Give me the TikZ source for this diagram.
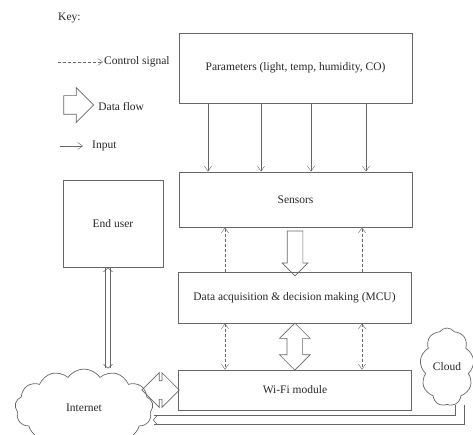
\documentclass[tikz,border=0pt]{standalone}
\usepackage{fontspec}
\setmainfont{Liberation Serif}
\usetikzlibrary{arrows.meta, positioning, calc, shapes.symbols, shapes.arrows}
\tikzset{
  block/.style={
    minimum width=233pt,
    align=center,
    draw=black!60,
    line width=0.9pt
  },
  keytext/.style={
    inner sep=1pt
  },
  cloudy/.style={
    cloud,
    cloud ignores aspect,
    draw=black!60,
    line width=0.7pt
  },
  flow/.style={
    single arrow,
    draw=black!60,
    line width=0.7pt
  },
  dflow/.style={
    double arrow,
    draw=black!60,
    line width=0.7pt
  },
  ctrl/.style={draw=black!60, densely dashed, thin},
  input/.style={draw=black!60, thin, ->},
  dline/.style={draw=black!60, line width=0.8pt, double, double distance=3.5pt,
    >={Straight Barb[length=4pt, width=9pt, line width=0.6pt]}}
}
\begin{document}
\begin{tikzpicture}[x=1pt, y=-1pt, node distance=0.5cm,
  font=\fontsize{11.5}{13}\selectfont, text=black!85,
  >={Straight Barb[length=5pt, width=7pt]}]
  \useasboundingbox (0,0) rectangle (473,435);
  \node (key) [keytext, anchor=west] at (57,18) {Key:};
  \coordinate (ctlkey) at (58,62);
  \node (ctltext) [keytext, anchor=west] at (103,62) {Control signal};
  \node (flowkey) [flow, minimum height=30pt, inner sep=9pt,
    single arrow head extend=8pt] at (74,105) {};
  \node (flowtext) [keytext, right=3pt of flowkey, yshift=-2pt] {Data flow};
  \coordinate (inkey) at (60,146);
  \coordinate (inend) at (83,146);
  \node (intext) [keytext, right=8pt of inend] {Input};
  \node (params) [block, minimum height=70pt] at (295.5,68)
    {Parameters (light, temp, humidity, CO)};
  \node (sensors) [block, minimum height=55pt] at (295.5,199.5) {Sensors};
  \node (daq) [block, minimum height=51pt] at (294.5,297.5)
    {Data acquisition \& decision making (MCU)};
  \node (wifi) [block, minimum height=40pt] at (295,390) {Wi-Fi module};
  \node (user) [block, minimum width=100pt, minimum height=87pt]
    at (113,223.5) {End user};
  \node (internet) [cloudy, cloud puffs=13, cloud puff arc=110,
    minimum width=138pt, minimum height=78pt] at (84,408) {Internet};
  \node (cloud) [cloudy, cloud puffs=9, cloud puff arc=110,
    minimum width=54pt, minimum height=78pt] at (447,367) {Cloud};
  \node (sflow) [flow, rotate=-90, minimum height=45pt, inner sep=7.5pt,
    single arrow head extend=5pt] at ($(sensors.south)!0.5!(daq.north)$) {};
  \node (mflow) [dflow, rotate=90, minimum height=47pt, inner sep=7.5pt,
    double arrow head extend=7.5pt] at ($(daq.south)!0.5!(wifi.north)$) {};
  \node (iflow) [dflow, minimum height=35pt, inner sep=9pt,
    double arrow head extend=8pt] at ($(wifi.west)+(-17.5,0)$) {};
  \foreach \x in {208,261,311,366}
    \draw [input] (params.south -| \x,0) -- (sensors.north -| \x,0);
  \foreach \x in {225,362} {
    \draw [ctrl, ->] (daq.north -| \x,0) -- (sensors.south -| \x,0);
    \draw [ctrl, <->] (daq.south -| \x,0) -- (wifi.north -| \x,0);
  }
  \draw [ctrl, ->] (ctlkey) -- (ctltext);
  \draw [input] (inkey) -- (inend);
  \draw [dline, <->] ([xshift=-5pt]user.south) -- ([xshift=-5pt]user.south |- internet.north);
  \draw [dline, ->, double distance=8pt] ([xshift=13pt]cloud.south)
    |- ([yshift=-12pt]internet.east);
\end{tikzpicture}
\end{document}
